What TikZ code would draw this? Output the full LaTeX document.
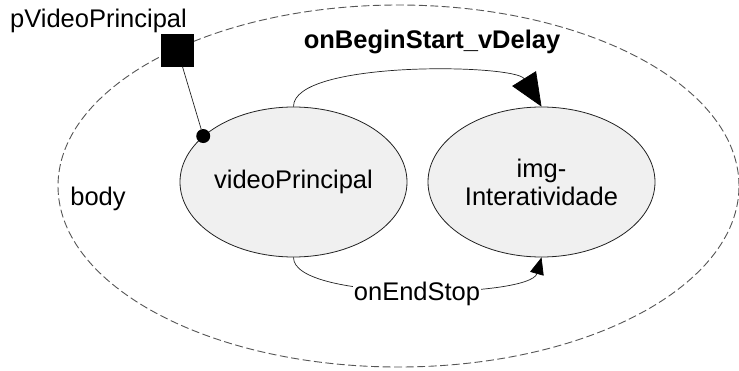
\documentclass[tikz,border=0pt]{standalone}
\usepackage{fontspec}
\setmainfont{Liberation Sans}
\usetikzlibrary{shapes.geometric,arrows.meta}
\definecolor{mediafill}{HTML}{F0F0F0}
\definecolor{dashgray}{HTML}{555555}
\definecolor{linegray}{HTML}{222222}
\begin{document}
\begin{tikzpicture}[x=1pt,y=-1pt,
  mediaell/.style={ellipse,draw=linegray,line width=0.8pt,fill=mediafill,
    minimum width=227pt,minimum height=150pt,inner sep=0pt,align=center,
    font=\fontsize{25.5}{28}\selectfont},
  ctxell/.style={ellipse,draw=dashgray,line width=0.9pt,dash pattern=on 8pt off 3.5pt,
    minimum width=681pt,minimum height=362pt,inner sep=0pt},
  lbl/.style={font=\fontsize{25.5}{28}\selectfont,inner sep=0pt,anchor=base},
  conn/.style={draw=linegray,line width=0.7pt},
]
\useasboundingbox (0,0) rectangle (739,370);
\node[ctxell] (bodyell) at (398.5,186) {};
\node[mediaell] (vp) at (293.5,182) {\raisebox{-3pt}{videoPrincipal}};
\node[mediaell] (img) at (541.5,182) {img-\\Interatividade};
\node[fill=black,minimum size=33pt,inner sep=0pt] (psq) at (177.5,50) {};
\node[circle,fill=black,minimum size=14pt,inner sep=0pt] (pdot) at (vp.153.8) {};
\node[lbl] (ptext) at (98.5,27) {pVideoPrincipal};
\node[lbl] (bodytext) at (98,205) {body};
\node[lbl,font=\fontsize{25.5}{28}\selectfont\bfseries] (title) at (432,48.5) {onBeginStart\_vDelay};
\draw[conn] (psq) -- (pdot);
\draw[conn,-{Triangle[length=33pt,width=28pt,fill=black,color=black]}] (vp.north) .. controls (293,60) and (515,64) .. (img.north);
\draw[conn,-{Triangle[length=17pt,width=14pt,fill=black,color=black]}] (vp.south) .. controls (293,302) and (530,298) .. (img.south);
\node[lbl,fill=white,inner xsep=1pt,inner ysep=0pt] (endstop) at (417,300) {onEndStop};
\end{tikzpicture}
\end{document}
